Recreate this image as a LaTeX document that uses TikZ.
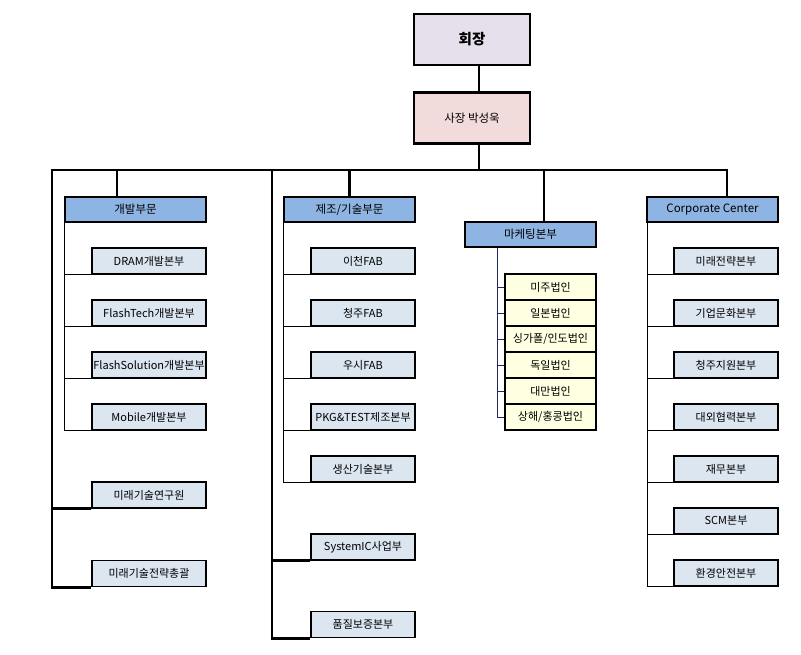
\documentclass[tikz,border=0pt]{standalone}
\usepackage{fontspec}
\setmainfont{Noto Sans CJK KR}
\definecolor{lav}{HTML}{E6E0EC}
\definecolor{pinkf}{HTML}{F2DCDB}
\definecolor{headf}{HTML}{8DB4E2}
\definecolor{subf}{HTML}{DCE6F1}
\definecolor{yelf}{HTML}{FFFFE1}
\definecolor{navy}{HTML}{1F2A5C}
\begin{document}
\begin{tikzpicture}[x=1pt,y=-1pt,
  topbox/.style={draw=black,line width=2.6pt,inner sep=0pt,minimum width=116pt,minimum height=51pt},
  headbox/.style={draw=black,line width=2.6pt,fill=headf,inner sep=0pt,minimum width=131pt,minimum height=25pt,font=\fontsize{11.5}{13}\selectfont},
  subbox/.style={draw=black,line width=1.5pt,fill=subf,inner sep=0pt,minimum width=104pt,minimum height=26pt,font=\fontsize{11}{13}\selectfont},
  mktbox/.style={draw=black,line width=1.2pt,fill=yelf,inner sep=0pt,minimum width=91pt,minimum height=26pt,font=\fontsize{11}{13}\selectfont},
  thickline/.style={line width=2.8pt},
  thinline/.style={line width=1pt}]
\fill[white] (0,0) rectangle (801,654);
\useasboundingbox (0,0) rectangle (801,654);

% top
\node[topbox,fill=lav,font=\fontsize{14.5}{16}\selectfont\bfseries] (ceo) at (472,39.5) {회장};
\node[topbox,fill=pinkf,font=\fontsize{11.5}{13}\selectfont] (pres) at (472,118) {사장 박성욱};
\coordinate (busL) at (52,170);
\coordinate (busM) at (479,170);
\coordinate (busR) at (727,170);
\coordinate (bus2) at (272,170);

% column 1
\node[headbox,minimum width=141pt] (h1) at (135.5,209.5) {개발부문};
\node[subbox,minimum width=114pt] (a1) at (149,261) {DRAM개발본부};
\node[subbox,minimum width=114pt] (a2) at (149,313) {FlashTech개발본부};
\node[subbox,minimum width=114pt] (a3) at (149,365) {FlashSolution개발본부};
\node[subbox,minimum width=114pt] (a4) at (149,417) {Mobile개발본부};
\node[subbox,minimum width=114pt] (a5) at (149,495) {미래기술연구원};
\node[subbox,minimum width=114pt] (a6) at (149,573.5) {미래기술전략총괄};

% column 2
\node[headbox] (h2) at (349.5,209.5) {제조/기술부문};
\node[subbox] (b1) at (363,261) {이천FAB};
\node[subbox] (b2) at (363,313) {청주FAB};
\node[subbox] (b3) at (363,365) {우시FAB};
\node[subbox] (b4) at (363,417) {PKG\&TEST제조본부};
\node[subbox] (b5) at (363,469) {생산기술본부};
\node[subbox] (b6) at (363,547) {SystemIC사업부};
\node[subbox] (b7) at (363,624.5) {품질보증본부};

% column 3
\node[headbox] (h3) at (530.5,234.5) {마케팅본부};
\node[mktbox] (c1) at (550.5,287) {미주법인};
\node[mktbox] (c2) at (550.5,313) {일본법인};
\node[mktbox] (c3) at (550.5,339) {싱가폴/인도법인};
\node[mktbox] (c4) at (550.5,365) {독일법인};
\node[mktbox] (c5) at (550.5,391) {대만법인};
\node[mktbox] (c6) at (550.5,417) {상해/홍콩법인};

% column 4
\node[headbox] (h4) at (712.5,209.5) {Corporate Center};
\node[subbox] (d1) at (726,261) {미래전략본부};
\node[subbox] (d2) at (726,313) {기업문화본부};
\node[subbox] (d3) at (726,365) {청주지원본부};
\node[subbox] (d4) at (726,417) {대외협력본부};
\node[subbox] (d5) at (726,469) {재무본부};
\node[subbox] (d6) at (726,521) {SCM본부};
\node[subbox] (d7) at (726,573) {환경안전본부};

% thick connectors
\begin{scope}[thickline]
\draw ([xshift=7pt]ceo.south) -- ([xshift=7pt]pres.north);
\draw ([xshift=7pt]pres.south) -- (busM);
\draw[line cap=rect] (busL) -- (busR);
\draw ([xshift=-18.5pt]h1.north) -- ([xshift=-18.5pt]h1.north |- busL);
\draw (h2.north) -- (h2.north |- busL);
\draw ([xshift=13.5pt]h3.north) -- ([xshift=13.5pt]h3.north |- busL);
\draw (busR) -- (busR |- h4.north);
\draw (busL) |- (a6.south west);
\draw (busL |- a5.south west) -- (a5.south west);
\draw (bus2) |- (b7.south west);
\draw (bus2 |- b6.south west) -- (b6.south west);
\end{scope}

% thin connectors
\begin{scope}[thinline]
\coordinate (v1) at ([xshift=1pt]h1.south west);
\draw (v1) |- (a4.south west);
\foreach \n in {a1,a2,a3} \draw (v1 |- \n.south west) -- (\n.south west);
\coordinate (v2) at ([xshift=1pt]h2.south west);
\draw (v2) |- (b5.south west);
\foreach \n in {b1,b2,b3,b4} \draw (v2 |- \n.south west) -- (\n.south west);
\coordinate (v4) at ([xshift=2pt]h4.south west);
\draw (v4) |- (d7.south west);
\foreach \n in {d1,d2,d3,d4,d5,d6} \draw (v4 |- \n.south west) -- (\n.south west);
\coordinate (v3) at ([xshift=34pt]h3.south west);
\draw[navy] (v3) |- (c6.west);
\foreach \n in {c1,c2,c3,c4,c5} \draw[navy] (v3 |- \n.west) -- (\n.west);
\end{scope}
\end{tikzpicture}
\end{document}
